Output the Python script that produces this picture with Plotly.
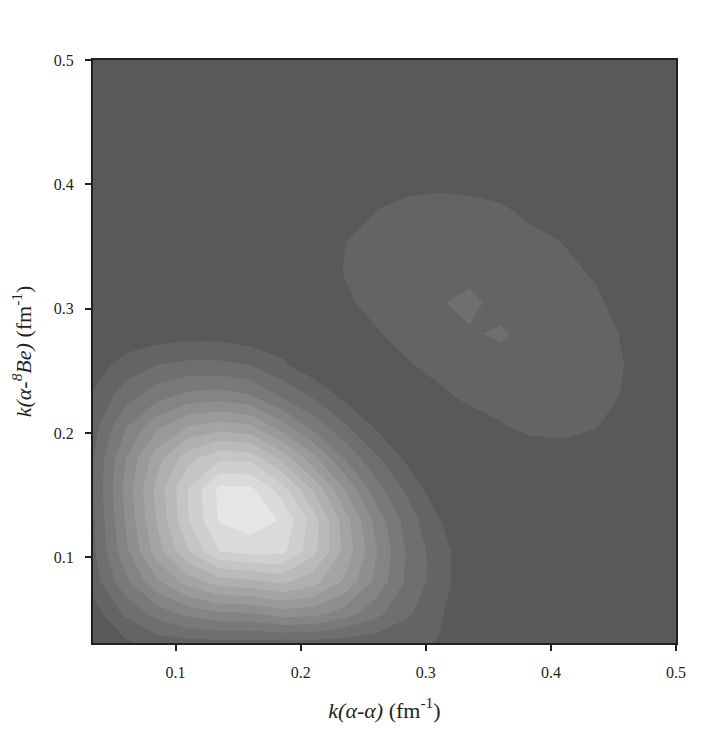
import plotly.graph_objects as go

# grid coordinates (fm^-1)
k_alpha_alpha = [0.034, 0.06, 0.085, 0.11, 0.135, 0.16, 0.185, 0.21, 0.235, 0.26,
                 0.285, 0.31, 0.335, 0.36, 0.385, 0.41, 0.435, 0.46, 0.485, 0.51]
k_alpha_be = [0.03, 0.055, 0.08, 0.105, 0.13, 0.155, 0.18, 0.205, 0.23, 0.255,
              0.28, 0.305, 0.33, 0.355, 0.38, 0.405, 0.43, 0.455, 0.48, 0.505]

# intensity (one row per k(alpha-8Be) value)
row_030 = [0.3, 0.75, 1.35, 1.5, 1.55, 1.5, 1.5, 1.45, 1.4, 1.3, 1.15, 0.95, 0.5, 0.3, 0.3, 0.3, 0.3, 0.3, 0.3, 0.3]
row_055 = [0.55, 2.22, 3.4, 4.33, 4.88, 4.94, 5.54, 5.39, 4.53, 3.34, 2.19, 1.16, 0.3, 0.3, 0.3, 0.3, 0.3, 0.3, 0.3, 0.3]
row_080 = [1.47, 3.7, 5.8, 7.43, 8.47, 8.69, 9.2, 8.39, 6.83, 4.73, 2.82, 1.52, 0.3, 0.3, 0.3, 0.3, 0.3, 0.3, 0.3, 0.3]
row_105 = [1.78, 4.71, 7.49, 9.95, 12.0, 12.4, 12.3, 10.34, 7.75, 5.12, 2.88, 1.46, 0.3, 0.3, 0.3, 0.3, 0.3, 0.3, 0.3, 0.3]
row_130 = [1.85, 5.08, 8.09, 10.96, 13.1, 13.6, 12.9, 10.53, 7.5, 4.68, 2.54, 1.07, 0.3, 0.3, 0.3, 0.3, 0.3, 0.3, 0.3, 0.3]
row_155 = [2.0, 5.31, 8.31, 11.01, 13.25, 13.2, 11.49, 8.85, 6.0, 3.42, 1.79, 0.3, 0.3, 0.3, 0.3, 0.3, 0.3, 0.3, 0.3, 0.3]
row_180 = [1.94, 4.96, 7.55, 9.63, 10.76, 10.62, 8.67, 6.3, 3.91, 2.18, 0.75, 0.3, 0.3, 0.3, 0.3, 0.43, 0.49, 0.3, 0.3, 0.3]
row_205 = [1.61, 3.9, 5.76, 7.04, 7.53, 7.18, 5.51, 3.65, 2.19, 0.89, 0.4, 0.4, 0.36, 0.9, 1.3, 1.35, 1.05, 0.63, 0.3, 0.3]
row_230 = [1.12, 2.54, 3.6, 4.28, 4.45, 4.04, 2.84, 1.85, 0.72, 0.3, 0.4, 0.72, 1.3, 1.5, 1.6, 1.6, 1.4, 0.9, 0.3, 0.3]
row_255 = [0.49, 1.39, 1.98, 2.23, 2.24, 1.96, 1.19, 0.3, 0.3, 0.5, 0.9, 1.4, 1.7, 1.65, 1.8, 1.7, 1.5, 0.97, 0.3, 0.3]
row_280 = [0.3, 0.3, 0.46, 0.61, 0.55, 0.3, 0.3, 0.3, 0.5, 0.9, 1.4, 1.75, 1.88, 2.15, 1.6, 1.75, 1.5, 0.84, 0.3, 0.3]
row_305 = [0.3, 0.3, 0.3, 0.3, 0.3, 0.3, 0.3, 0.3, 0.83, 1.3, 1.6, 1.9, 2.3, 1.6, 1.75, 1.6, 1.3, 0.36, 0.3, 0.3]
row_330 = [0.3, 0.3, 0.3, 0.3, 0.3, 0.3, 0.3, 0.3, 1.05, 1.4, 1.6, 1.7, 1.64, 1.7, 1.6, 1.35, 0.835, 0.3, 0.3, 0.3]
row_355 = [0.3, 0.3, 0.3, 0.3, 0.3, 0.3, 0.3, 0.3, 0.97, 1.25, 1.5, 1.6, 1.6, 1.5, 1.3, 0.94, 0.4, 0.3, 0.3, 0.3]
row_380 = [0.3, 0.3, 0.3, 0.3, 0.3, 0.3, 0.3, 0.3, 0.3, 0.98, 1.2, 1.35, 1.35, 1.15, 0.68, 0.4, 0.3, 0.3, 0.3, 0.3]
row_405 = [0.3, 0.3, 0.3, 0.3, 0.3, 0.3, 0.3, 0.3, 0.3, 0.3, 0.7, 0.68, 0.55, 0.4, 0.3, 0.3, 0.3, 0.3, 0.3, 0.3]
row_430 = [0.3] * 20
row_455 = [0.3] * 20
row_480 = [0.3] * 20
row_505 = [0.3] * 20

intensity = [row_030, row_055, row_080, row_105, row_130, row_155, row_180, row_205,
             row_230, row_255, row_280, row_305, row_330, row_355, row_380, row_405,
             row_430, row_455, row_480, row_505]

x_ticks = [0.1, 0.2, 0.3, 0.4, 0.5]
y_ticks = [0.1, 0.2, 0.3, 0.4, 0.5]

# grayscale: background dark gray -> peak light gray
gray_scale = [[0.0, "rgb(88,89,91)"], [1.0, "rgb(228,229,231)"]]

fig = go.Figure(go.Contour(
    x=k_alpha_alpha, y=k_alpha_be, z=intensity,
    contours=dict(start=1, end=13, size=1, coloring="fill"),
    colorscale=gray_scale,
    line=dict(width=0, smoothing=0),
    showscale=False,
    hoverinfo="skip",
))

serif = "Liberation Serif, Times New Roman, serif"
fig.update_layout(
    width=698, height=724,
    margin=dict(l=82, r=30, t=52, b=89),
    paper_bgcolor="white",
    plot_bgcolor="rgb(88,89,91)",
    font=dict(family=serif, size=16, color="#231f20"),
    showlegend=False,
)
fig.update_xaxes(
    range=[0.034, 0.5], tickvals=x_ticks, ticktext=[f"{v:.1f}" for v in x_ticks],
    ticks="outside", ticklen=6, tickwidth=1.5, tickcolor="#231f20",
    ticklabelstandoff=8,
    showline=True, linecolor="#231f20", linewidth=2, mirror=True,
    showgrid=False, zeroline=False,
    title=dict(text="<i>k(α-α)</i> (fm<sup>-1</sup>)", font=dict(size=22), standoff=22),
    tickfont=dict(size=16),
)
fig.update_yaxes(
    range=[0.031, 0.5], tickvals=y_ticks, ticktext=[f"{v:.1f}" for v in y_ticks],
    ticks="outside", ticklen=6, tickwidth=1.5, tickcolor="#231f20",
    ticklabelstandoff=8,
    showline=True, linecolor="#231f20", linewidth=2, mirror=True,
    showgrid=False, zeroline=False,
    title=dict(text="<i>k(α-<sup>8</sup>Be)</i> (fm<sup>-1</sup>)", font=dict(size=22), standoff=18),
    tickfont=dict(size=16),
)

fig.write_html("out.html")
